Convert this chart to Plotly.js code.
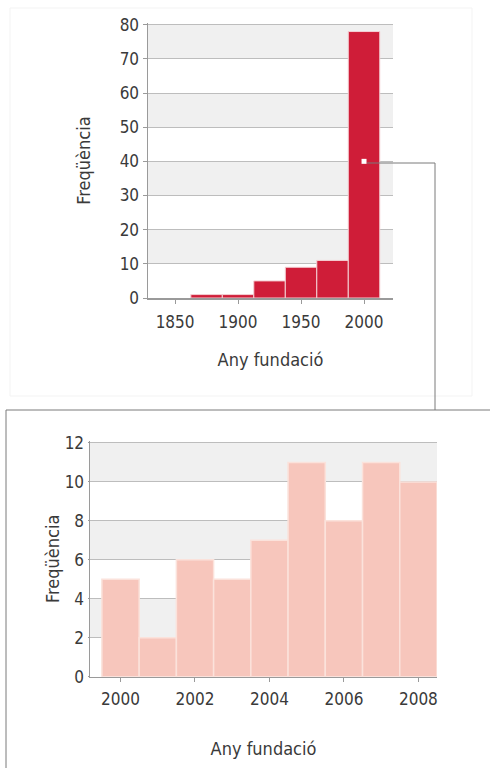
<!DOCTYPE html>
<html>
<head>
<meta charset="utf-8">
<script src="https://cdn.plot.ly/plotly-3.0.1.min.js"></script>
<style>
  html, body { margin: 0; padding: 0; background: #ffffff; }
  #chart { width: 490px; height: 768px; }
</style>
</head>
<body>
<div id="chart"></div>
<script>
// ---- data ----
var topYears = [1875, 1900, 1925, 1950, 1975, 2000];
var topCounts = [1, 1, 5, 9, 11, 78];
var topTicks = [1850, 1900, 1950, 2000];
var topYTicks = [0, 10, 20, 30, 40, 50, 60, 70, 80];

var bottomYears = [2000, 2001, 2002, 2003, 2004, 2005, 2006, 2007, 2008];
var bottomCounts = [5, 2, 6, 5, 7, 11, 8, 11, 10];
var bottomTicks = [2000, 2002, 2004, 2006, 2008];
var bottomYTicks = [0, 2, 4, 6, 8, 10, 12];

var xTitle = 'Any fundació';
var yTitle = 'Freqüència';

var markerPoint = {x: [2000], y: [40]};

var topBands = [[10, 20], [30, 40], [50, 60], [70, 80]];
var bottomBands = [[2, 4], [6, 8], [10, 12]];

// ---- layout helpers (pixel -> paper) ----
var W = 490, H = 768;
function px(x) { return x / W; }
function py(y) { return 1 - y / H; }

var FONT = '"Liberation Sans Narrow", "DejaVu Sans Condensed", "Arial Narrow", sans-serif';
var TXT = '#3a3a3a';
var AX = '#9a9a9a';

var traces = [
  {
    type: 'bar', x: topYears, y: topCounts, width: 25,
    xaxis: 'x', yaxis: 'y',
    marker: {color: '#cf1d38', line: {color: '#f4d0d4', width: 1}},
    hoverinfo: 'x+y', showlegend: false
  },
  {
    type: 'scatter', mode: 'markers', x: markerPoint.x, y: markerPoint.y,
    xaxis: 'x', yaxis: 'y',
    marker: {symbol: 'square', size: 5, color: '#ffffff'},
    showlegend: false, hoverinfo: 'skip'
  },
  {
    type: 'bar', x: bottomYears, y: bottomCounts, width: 1,
    xaxis: 'x2', yaxis: 'y2',
    marker: {color: '#f7c6bc', line: {color: '#fbe2db', width: 1.5}},
    hoverinfo: 'x+y', showlegend: false
  }
];

var shapes = [];
topBands.forEach(function (b) {
  shapes.push({type: 'rect', xref: 'x domain', yref: 'y', x0: 0, x1: 1, y0: b[0], y1: b[1],
    fillcolor: '#f0f0f0', line: {width: 0}, layer: 'below'});
});
bottomBands.forEach(function (b) {
  shapes.push({type: 'rect', xref: 'x2 domain', yref: 'y2', x0: 0, x1: 1, y0: b[0], y1: b[1],
    fillcolor: '#f0f0f0', line: {width: 0}, layer: 'below'});
});
// faint panel behind top chart
shapes.push({type: 'rect', xref: 'paper', yref: 'paper', x0: px(10), x1: px(472), y0: py(396), y1: py(8),
  line: {color: '#f3f3f3', width: 1}, fillcolor: 'rgba(0,0,0,0)', layer: 'below'});
// connector
shapes.push({type: 'path', xref: 'paper', yref: 'paper',
  path: 'M ' + px(367) + ' ' + py(163) + ' L ' + px(435) + ' ' + py(163) + ' L ' + px(435) + ' ' + py(410),
  line: {color: '#7a7a7a', width: 1}});
// bottom frame
shapes.push({type: 'rect', xref: 'paper', yref: 'paper', x0: px(6), x1: 1.02, y0: -0.02, y1: py(410),
  line: {color: '#7a7a7a', width: 1}, fillcolor: 'rgba(0,0,0,0)'});

var axisCommon = {
  showline: true, linecolor: AX, linewidth: 1.5,
  ticks: 'outside', ticklen: 4, tickcolor: AX, tickwidth: 1,
  tickfont: {family: FONT, size: 17, color: TXT},
  zeroline: false, fixedrange: true
};

function ax(extra) { return Object.assign({}, axisCommon, extra); }

var layout = {
  width: W, height: H,
  margin: {l: 0, r: 0, t: 0, b: 0},
  paper_bgcolor: '#ffffff', plot_bgcolor: 'rgba(0,0,0,0)',
  bargap: 0, showlegend: false,
  font: {family: FONT, color: TXT},
  xaxis: ax({
    domain: [px(148), px(393)], anchor: 'y', range: [1828.5, 2023],
    tickvals: topTicks, showgrid: false, ticklabelstandoff: 4,
    title: {text: xTitle, font: {family: FONT, size: 18, color: TXT}, standoff: 22}
  }),
  yaxis: ax({
    domain: [py(298), py(23)], anchor: 'x', range: [0, 80.5],
    tickvals: topYTicks, showgrid: true, gridcolor: '#bdbdbd', gridwidth: 1,
    title: {text: yTitle, font: {family: FONT, size: 18, color: TXT}, standoff: 24}
  }),
  xaxis2: ax({
    domain: [px(90), px(437)], anchor: 'y2', range: [1999.18, 2008.5],
    tickvals: bottomTicks, showgrid: false, ticklabelstandoff: 2,
    title: {text: xTitle, font: {family: FONT, size: 18, color: TXT}, standoff: 35}
  }),
  yaxis2: ax({
    domain: [py(676.7), py(441)], anchor: 'x2', range: [0, 12.1], ticklen: 1,
    tickvals: bottomYTicks, showgrid: true, gridcolor: '#bdbdbd', gridwidth: 1,
    title: {text: yTitle, font: {family: FONT, size: 18, color: TXT}, standoff: 0}
  }),
  shapes: shapes
};

Plotly.newPlot('chart', traces, layout, {displayModeBar: false, staticPlot: true});
</script>
</body>
</html>
